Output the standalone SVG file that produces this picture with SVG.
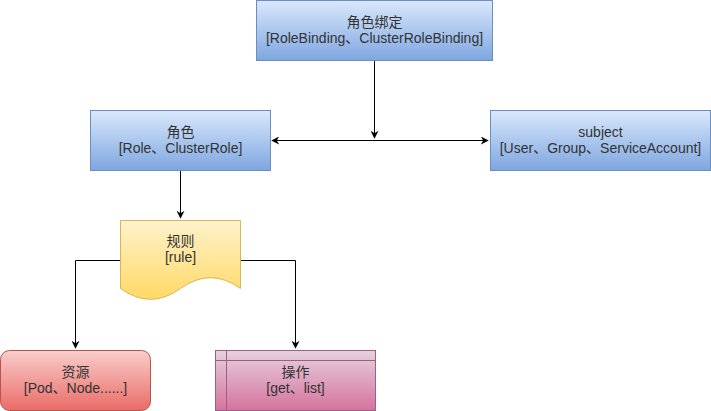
<svg xmlns="http://www.w3.org/2000/svg" width="711" height="411" viewBox="0 0 711 411">
<defs>
<linearGradient id="gBlue" x1="0" y1="0" x2="0" y2="1"><stop offset="0" stop-color="#dae8fc"/><stop offset="1" stop-color="#7ea6e0"/></linearGradient>
<linearGradient id="gYellow" x1="0" y1="0" x2="0" y2="1"><stop offset="0" stop-color="#fff2cc"/><stop offset="1" stop-color="#ffd966"/></linearGradient>
<linearGradient id="gRed" x1="0" y1="0" x2="0" y2="1"><stop offset="0" stop-color="#f8cecc"/><stop offset="1" stop-color="#ea6b66"/></linearGradient>
<linearGradient id="gPurple" x1="0" y1="0" x2="0" y2="1"><stop offset="0" stop-color="#e6d0de"/><stop offset="1" stop-color="#d5739d"/></linearGradient>
<marker id="arr" viewBox="0 0 10 10" refX="9" refY="5" markerWidth="8" markerHeight="8" markerUnits="userSpaceOnUse" orient="auto-start-reverse">
<path d="M0,0 L10,5 L0,10 L3,5 Z" fill="#000"/>
</marker>
<style>
text{font-family:"Liberation Sans","Noto Sans CJK SC",sans-serif;font-size:14px;fill:#333;text-anchor:middle}
.edge{fill:none;stroke:#000;stroke-width:1}
.blue{fill:url(#gBlue);stroke:#6c8ebf}
.yellow{fill:url(#gYellow);stroke:#d6b656}
.red{fill:url(#gRed);stroke:#b85450}
.purple{fill:url(#gPurple);stroke:#996185}
</style>
</defs>
<rect width="711" height="411" fill="#fff"/>
<g id="connectors">
<path class="edge" d="M374.5,60.5 V138" marker-end="url(#arr)"/>
<path class="edge" d="M272,140.5 H488" marker-start="url(#arr)" marker-end="url(#arr)"/>
<path class="edge" d="M180.5,170.5 V218" marker-end="url(#arr)"/>
<path class="edge" d="M120.5,260.5 H75.5 V348" marker-end="url(#arr)"/>
<path class="edge" d="M240.5,260.5 H295.5 V348" marker-end="url(#arr)"/>
</g>
<g id="roleBinding">
<rect class="blue" x="256.5" y="0.5" width="236" height="60"/>
<text x="374.5" y="27">角色绑定</text>
<text x="374.5" y="42.5">[RoleBinding、ClusterRoleBinding]</text>
</g>
<g id="role">
<rect class="blue" x="90.5" y="110.5" width="180" height="60"/>
<text x="180.5" y="137">角色</text>
<text x="180.5" y="152.5">[Role、ClusterRole]</text>
</g>
<g id="subject">
<rect class="blue" x="490.5" y="110.5" width="220" height="60"/>
<text x="600.5" y="137">subject</text>
<text x="600.5" y="152.5">[User、Group、ServiceAccount]</text>
</g>
<g id="rule">
<path class="yellow" d="M120.5,220.5 H240.5 V288.5 Q210.5,266.9 180.5,288.5 Q150.5,310.1 120.5,288.5 Z"/>
<text x="180.5" y="246">规则</text>
<text x="180.5" y="261.5">[rule]</text>
</g>
<g id="resource">
<rect class="red" x="0.5" y="350.5" width="150" height="60" rx="9" ry="9"/>
<text x="75.5" y="377">资源</text>
<text x="75.5" y="392.5">[Pod、Node......]</text>
</g>
<g id="operation">
<rect class="purple" x="215.5" y="350.5" width="160" height="60"/>
<path d="M226.5,350.5 V410.5 M215.5,360.5 H375.5" fill="none" stroke="#996185"/>
<text x="295.5" y="377">操作</text>
<text x="295.5" y="392.5">[get、list]</text>
</g>
</svg>
